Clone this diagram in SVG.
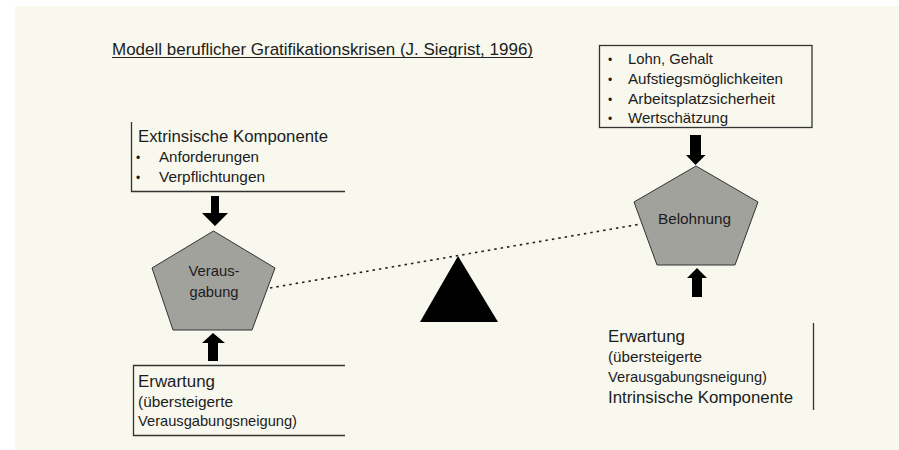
<svg xmlns="http://www.w3.org/2000/svg" width="899" height="450" viewBox="0 0 899 450">
  <style>
    text { font-family: "Liberation Sans", Arial, sans-serif; fill: #1c1c1c; }
    .t15 { font-size: 16px; }
    .t13 { font-size: 14.5px; }
    .bul { font-size: 12px; }
    .line { stroke: #333; stroke-width: 1.3; fill: none; }
    .pent { fill: #a2a29d; stroke: #333; stroke-width: 1; }
    .arrow { fill: #000; }
    .beam { stroke: #222; stroke-width: 1.6; stroke-dasharray: 2.5 4; fill: none; }
  </style>
  <rect x="0" y="0" width="899" height="450" fill="#ffffff"/>
  <rect x="15" y="6" width="884" height="444" fill="#f8f8ee"/>

  <g id="title">
    <text x="112" y="55" font-size="17" textLength="421" lengthAdjust="spacingAndGlyphs">Modell beruflicher Gratifikationskrisen (J. Siegrist, 1996)</text>
    <line x1="112" y1="57.5" x2="533" y2="57.5" stroke="#222" stroke-width="1"/>
  </g>

  <g id="belohnung-list">
    <rect x="599.5" y="45.5" width="212.5" height="82" class="line"/>
    <text x="608" y="64" class="bul">•</text>
    <text x="628" y="64" class="t13" textLength="85" lengthAdjust="spacingAndGlyphs">Lohn, Gehalt</text>
    <text x="608" y="84" class="bul">•</text>
    <text x="628" y="84" class="t13" textLength="155" lengthAdjust="spacingAndGlyphs">Aufstiegsmöglichkeiten</text>
    <text x="608" y="104" class="bul">•</text>
    <text x="628" y="104" class="t13" textLength="147" lengthAdjust="spacingAndGlyphs">Arbeitsplatzsicherheit</text>
    <text x="608" y="123" class="bul">•</text>
    <text x="628" y="123" class="t13" textLength="100" lengthAdjust="spacingAndGlyphs">Wertschätzung</text>
  </g>

  <g id="extrinsisch">
    <polyline points="131.5,122 131.5,191.5 345,191.5" class="line"/>
    <text x="138" y="142" class="t15" textLength="190" lengthAdjust="spacingAndGlyphs">Extrinsische Komponente</text>
    <text x="136" y="162" class="bul">•</text>
    <text x="159" y="162" class="t13" textLength="100" lengthAdjust="spacingAndGlyphs">Anforderungen</text>
    <text x="136" y="182" class="bul">•</text>
    <text x="159" y="182" class="t13" textLength="106" lengthAdjust="spacingAndGlyphs">Verpflichtungen</text>
  </g>

  <g id="verausgabung">
    <polygon points="213.5,231 275,268 252,330 173,330 152,268" class="pent"/>
    <text x="214" y="276" class="t13" text-anchor="middle" textLength="51" lengthAdjust="spacingAndGlyphs">Veraus-</text>
    <text x="214" y="297" class="t13" text-anchor="middle" textLength="49" lengthAdjust="spacingAndGlyphs">gabung</text>
  </g>

  <g id="belohnung">
    <polygon points="696,166 758,202 735,265 657,265 634,202" class="pent"/>
    <text x="694.5" y="224" class="t13" text-anchor="middle" textLength="73" lengthAdjust="spacingAndGlyphs">Belohnung</text>
  </g>

  <g id="fulcrum">
    <polygon points="458,256 498,322 420,322" fill="#000"/>
  </g>

  <g id="erwartung-links">
    <polyline points="345,365.5 133.5,365.5 133.5,435.5 345,435.5" class="line"/>
    <text x="138" y="387" class="t15" textLength="77" lengthAdjust="spacingAndGlyphs">Erwartung</text>
    <text x="138" y="407" class="t13" textLength="95" lengthAdjust="spacingAndGlyphs">(übersteigerte</text>
    <text x="138" y="426" class="t13" textLength="159" lengthAdjust="spacingAndGlyphs">Verausgabungsneigung)</text>
  </g>

  <g id="erwartung-rechts">
    <line x1="813.5" y1="323" x2="813.5" y2="410" class="line"/>
    <text x="608" y="342" class="t15" textLength="77" lengthAdjust="spacingAndGlyphs">Erwartung</text>
    <text x="608" y="362" class="t13" textLength="94" lengthAdjust="spacingAndGlyphs">(übersteigerte</text>
    <text x="608" y="382" class="t13" textLength="159" lengthAdjust="spacingAndGlyphs">Verausgabungsneigung)</text>
    <text x="608" y="403" class="t15" textLength="185" lengthAdjust="spacingAndGlyphs">Intrinsische Komponente</text>
  </g>

  <g id="connectors">
    <line x1="270" y1="288" x2="641" y2="224" class="beam"/>
    <polygon class="arrow" points="211,196 219,196 219,213 228,213 215,226 202,213 211,213"/>
    <polygon class="arrow" points="208,361 218,361 218,343 225,343 213,333 202,343 208,343"/>
    <polygon class="arrow" points="690,135 701,135 701,155 705.5,155 695.5,165 686,155 690,155"/>
    <polygon class="arrow" points="692,297 702,297 702,278 707,278 697,268 687,278 692,278"/>
  </g>
</svg>
